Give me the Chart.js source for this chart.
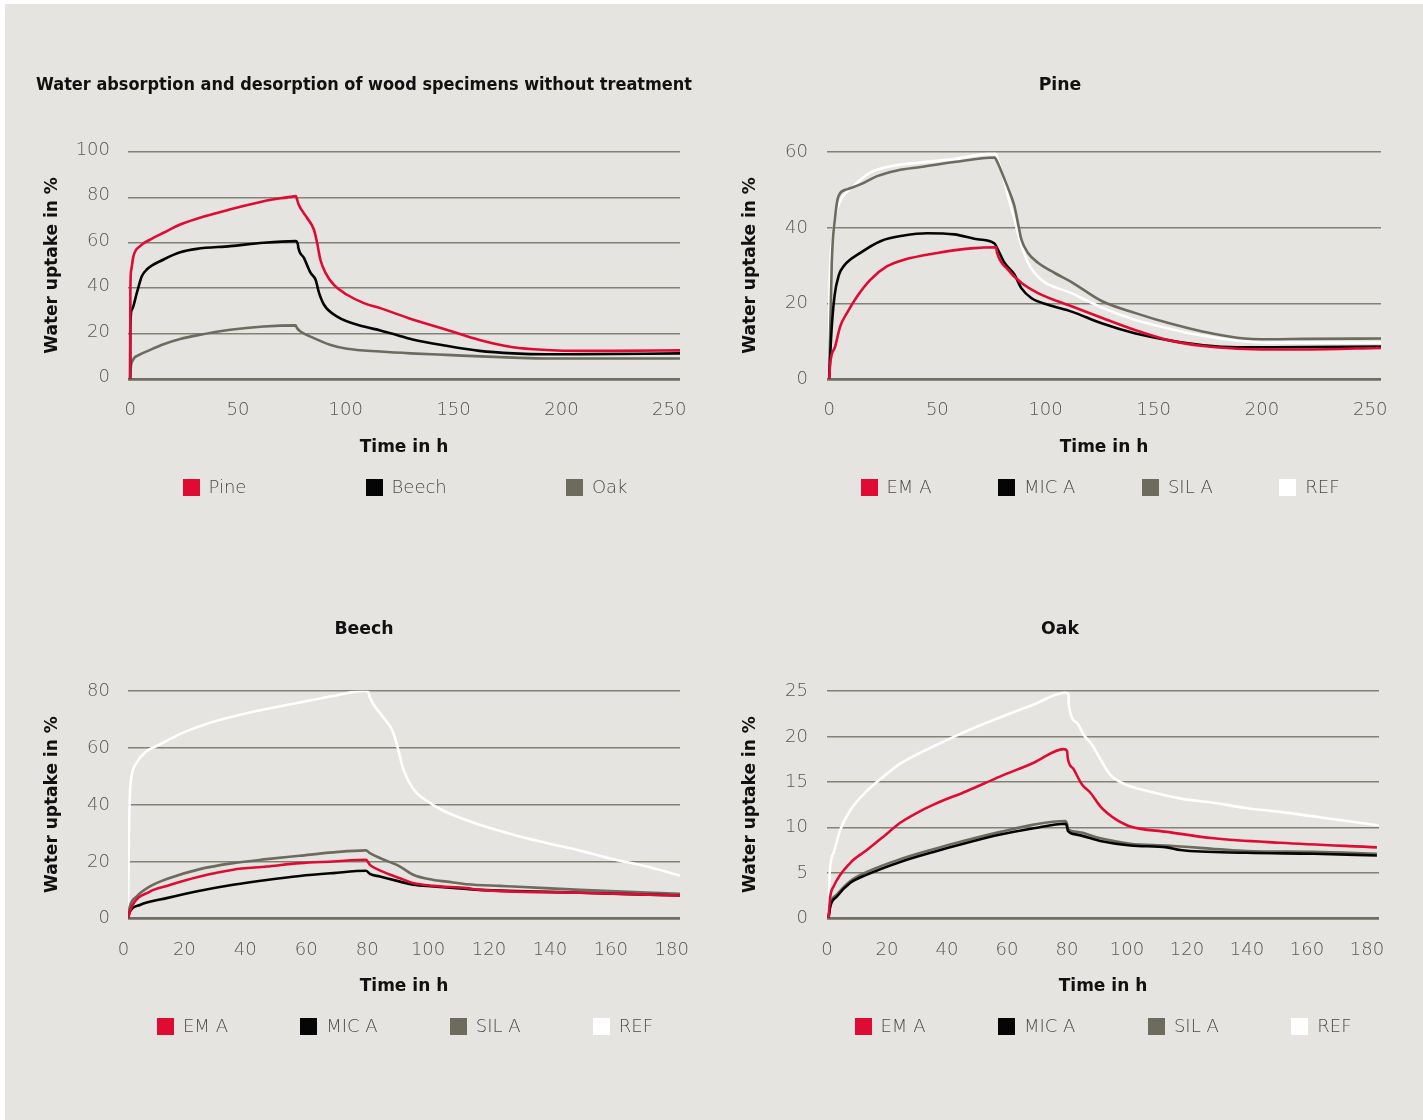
<!DOCTYPE html>
<html>
<head>
<meta charset="utf-8">
<title>Water absorption and desorption of wood specimens</title>
<script src="https://cdn.jsdelivr.net/npm/chart.js@4.4.1/dist/chart.umd.min.js"></script>
<style>
  html, body { margin: 0; padding: 0; background: #ffffff; }
  #sheet { position: absolute; left: 5px; top: 4px; width: 1418px; height: 1116px; background: #e5e4e0; }
  canvas { position: absolute; }
</style>
</head>
<body>
<div id="sheet"></div>
<canvas id="untreated" width="656" height="470" style="left:36px;top:60px"></canvas>
<canvas id="pine" width="666" height="470" style="left:727px;top:60px"></canvas>
<canvas id="beech" width="656" height="470" style="left:36px;top:600px"></canvas>
<canvas id="oak" width="666" height="470" style="left:727px;top:600px"></canvas>
<script>
// ---- Untreated specimens (time in h / water uptake in %) ----
const untreatedPineT  = [0, 0.1, 0.5, 1.5, 4.6, 9.3, 15.5, 23.2, 30.9, 46.5, 61.9, 75.8, 76.9, 77.4, 78.1, 82, 85.2, 86.7, 88.2, 90.6, 94.4, 100.6, 108.4, 116, 130.6, 146.7, 162, 177.6, 193, 208.7, 224.2, 255];
const untreatedPineV  = [0, 39, 48, 54, 58.5, 61.4, 64.4, 68, 70.6, 74.7, 78.3, 80.4, 80.6, 79.1, 76.9, 71, 65.8, 60, 52.6, 46.7, 41.5, 37.1, 33.4, 31.2, 26.3, 21.7, 17.2, 14.0, 12.8, 12.4, 12.4, 12.6];
const untreatedBeechT = [0, 0.05, 0.8, 3.1, 5.4, 7.7, 15.5, 23.2, 30.9, 46.5, 61.9, 76.7, 77.8, 78, 80.6, 83.7, 86, 87.6, 89.9, 96, 108.4, 116, 124, 131, 146.7, 162, 177.6, 193, 208.7, 255];
const untreatedBeechV = [0, 21.7, 30.5, 37.9, 45.2, 48.2, 52.6, 55.8, 57.3, 58.5, 60, 60.7, 59.2, 57.8, 53.3, 46.7, 43.7, 37.9, 32.7, 27.5, 23.1, 21.4, 19.3, 17.4, 14.6, 12.4, 11.3, 10.9, 10.9, 11.3];
const untreatedOakT   = [0, 0.2, 1.1, 4.2, 8.8, 15.5, 23.2, 30.9, 46.5, 61.9, 76.7, 77.4, 79, 85.2, 93, 100.6, 116, 130, 146.7, 177.6, 193, 255];
const untreatedOakV   = [0, 4, 8, 10.6, 12.6, 15.3, 17.6, 19.2, 21.7, 23.1, 23.6, 22.4, 20.9, 18, 15, 13.3, 12.1, 11.3, 10.6, 9.4, 9.0, 9.0];

// ---- Pine, treated (EM A, MIC A, SIL A) and reference ----
const pineEmaT = [0, 0.5, 2.8, 5.1, 8.2, 12.9, 19, 26.8, 34.5, 50, 65.5, 77.1, 77.6, 82.6, 88.8, 96.5, 112, 125.9, 141.6, 157.2, 172.9, 188.5, 204.2, 220, 255];
const pineEmaV = [0, 4.2, 8.6, 13.9, 17.4, 21.8, 26.2, 29.8, 31.5, 33.3, 34.5, 34.8, 33.3, 28.9, 25.4, 22.7, 19.2, 16.2, 12.9, 10.2, 8.7, 8.0, 7.8, 7.8, 8.2];
const pineMicT = [0, 1, 2.5, 4.5, 7, 14.4, 23.7, 34.5, 45.4, 57.8, 68.6, 76.4, 77.6, 81, 85.6, 88.8, 93.4, 101.2, 112, 125.9, 141.6, 157.2, 172.9, 188.5, 204.2, 255];
const pineMicV = [0, 12, 22, 27.5, 30, 33.3, 36.4, 37.9, 38.5, 38.2, 36.9, 35.8, 34.6, 30.7, 27.6, 24, 21.4, 19.6, 17.8, 14.7, 12, 10.2, 8.9, 8.4, 8.4, 8.6];
const pineSilT = [0, 1.2, 2.8, 4.3, 8.2, 14.4, 22.2, 31.5, 42.3, 57.8, 76.4, 77.1, 81, 84.1, 85.6, 87.2, 88.8, 91.9, 96.5, 104.2, 112, 125.9, 141.6, 157.2, 172.9, 188.5, 204.2, 219.8, 255];
const pineSilV = [0, 30.7, 43, 48.3, 50.1, 51.4, 53.6, 55.1, 56, 57.3, 58.5, 58, 52.8, 48.3, 45.7, 41.3, 36.9, 33.3, 30.7, 28, 25.6, 20.6, 17.4, 14.7, 12.5, 10.9, 10.5, 10.6, 10.7];
const pineRefT = [0, 0.1, 1.2, 2.8, 5.1, 11.3, 19, 26.8, 42.3, 57.8, 73.3, 77.1, 77.9, 80.3, 82.6, 85.6, 88, 91.9, 98, 112, 125.9, 141.6, 157.2, 172.9, 188.5, 204.2, 255];
const pineRefV = [0, 21.8, 35.1, 43, 47, 51, 54.5, 56, 57.2, 58.1, 59.4, 59.4, 58.1, 53.6, 48.3, 42.2, 36.9, 30.7, 26.2, 22.7, 18.9, 15.6, 13.3, 11.4, 10.1, 9.6, 9.6];

// ---- Beech ----
const beechEmaT = [1.5, 2.7, 8.7, 14.2, 25.1, 36, 47, 57.9, 68.9, 79.6, 80.9, 84.7, 90.8, 95.1, 101.7, 112.7, 117, 149.9, 182.7];
const beechEmaV = [0, 4.1, 9.4, 11.4, 14.7, 17.1, 18.2, 19.4, 20, 20.6, 18.8, 16.6, 14.1, 12.4, 11.4, 10.6, 10, 9.0, 8.0];
const beechMicT = [1.5, 2.1, 5.4, 14.2, 25.1, 36, 47, 57.9, 68.9, 79.6, 80.9, 84.2, 90.8, 95.1, 101.7, 112.7, 117, 149.9, 182.7];
const beechMicV = [0, 2.3, 4.7, 7.1, 9.7, 11.8, 13.5, 14.9, 15.9, 16.7, 15.6, 14.7, 12.9, 11.8, 11.2, 10.3, 10, 9.0, 8.0];
const beechSilT = [1.5, 2.1, 4.3, 8.7, 14.2, 25.1, 36, 47, 57.9, 68.9, 79.6, 80.9, 84.2, 90.8, 95.1, 101.7, 106.1, 112.7, 123.6, 128, 149.9, 182.7];
const beechSilV = [0, 4.1, 7.6, 11.2, 13.8, 17.3, 19.4, 20.8, 22, 23.2, 23.9, 22.9, 21.2, 18.2, 15.3, 13.5, 12.9, 12, 11.4, 11.2, 10, 8.6];
const beechRefT = [1.5, 1.8, 2.1, 2.7, 4.3, 7.6, 10.9, 19.6, 28.4, 41.5, 57.9, 68.9, 79.3, 80.4, 80.9, 84.7, 88.6, 90.2, 91.9, 95.1, 100.6, 106.1, 117, 128, 138.9, 149.9, 160.8, 171.8, 182.7];
const beechRefV = [0, 28.8, 42.9, 50, 54.7, 58.8, 60.6, 65.3, 68.8, 72.4, 75.9, 78.2, 80, 79.6, 77.7, 71.5, 65.3, 59.4, 52.3, 45.6, 40.6, 37.3, 32.9, 29.4, 26.5, 23.8, 20.8, 18.2, 15.0];

// ---- Oak ----
const oakEmaT = [0.5, 1.1, 2.2, 7.8, 13.3, 18.9, 24.4, 30, 35.5, 46.7, 57.8, 68.9, 78.9, 80, 80.3, 82.2, 85, 87.8, 91.1, 93.3, 96.7, 101.1, 113.3, 128.9, 151.1, 183.3];
const oakEmaV = [0, 2.4, 3.5, 6.1, 7.5, 9, 10.5, 11.6, 12.5, 14, 15.6, 17.1, 18.6, 18.4, 17.5, 16.4, 14.7, 13.8, 12.3, 11.6, 10.8, 10.1, 9.5, 8.8, 8.3, 7.8];
const oakMicT = [0.5, 1.1, 3.3, 7.8, 13.3, 24.4, 35.5, 46.7, 57.8, 68.9, 79.4, 80, 80.3, 83.3, 91.1, 101.1, 113.3, 117.8, 140, 162.2, 183.3];
const oakMicV = [0, 1.3, 2.4, 3.9, 4.8, 6.2, 7.3, 8.3, 9.2, 9.9, 10.4, 10.1, 9.6, 9.2, 8.5, 8.0, 7.8, 7.5, 7.2, 7.1, 6.9];
const oakSilT = [0.5, 1.1, 3.3, 7.8, 13.3, 24.4, 35.5, 46.7, 57.8, 68.9, 79.4, 80, 80.3, 83.3, 91.1, 101.1, 113.3, 140, 162.2, 183.3];
const oakSilV = [0, 1.5, 2.6, 4.1, 5.1, 6.5, 7.6, 8.6, 9.5, 10.3, 10.7, 10.4, 9.8, 9.5, 8.8, 8.2, 8.0, 7.4, 7.3, 7.1];
const oakRefT = [0.5, 0.9, 2.2, 4.4, 7.8, 13.3, 18.9, 24.4, 35.5, 46.7, 57.8, 68.9, 79.4, 80.5, 80.6, 83.3, 85.5, 88.3, 91.1, 94.4, 98.9, 107.8, 118.9, 128.9, 140, 151.1, 162.2, 173.3, 184];
const oakRefV = [0, 5, 7.2, 9.7, 11.9, 14.0, 15.6, 17.0, 18.9, 20.6, 22.1, 23.5, 24.8, 24.6, 23.5, 21.5, 20.2, 19.1, 17.5, 15.8, 14.8, 13.9, 13.1, 12.7, 12.1, 11.7, 11.2, 10.7, 10.2];

// ---- Axis ticks ----
const xTicksLong  = [0, 50, 100, 150, 200, 250];
const xTicksShort = [0, 20, 40, 60, 80, 100, 120, 140, 160, 180];

// ---- Styling ----
const RED = '#e00b32', BLACK = '#050505', GREY = '#6d6b5e', WHITE = '#ffffff';
const GRID = '#828176', ZERO = '#6f6e62';
const TICK_COLOR = '#585858';
const HEAD_FONT = { family: '"DejaVu Sans", sans-serif', size: 17, weight: 'bold' };
const TITLE_FONT = { family: '"DejaVu Sans", sans-serif', size: 17.3, weight: 'bold' };
const TICK_FONT = { family: '"DejaVu Sans", sans-serif', size: 18, weight: '200' };
const LEGEND_FONT = { family: '"DejaVu Sans", sans-serif', size: 18, weight: '200' };

// Legend drawn below the plot area, centred on it, with the items spread over a given span
const spreadLegend = {
  id: 'spreadLegend',
  afterDraw(chart, args, opts) {
    const { ctx, chartArea } = chart;
    ctx.save();
    ctx.font = `${opts.font.weight} ${opts.font.size}px ${opts.font.family}`;
    const box = opts.boxSize;
    const items = chart.data.datasets.map(ds => ({
      label: ds.label,
      color: ds.borderColor,
      w: box + opts.textGap + ctx.measureText(ds.label).width
    }));
    const sum = items.reduce((s, it) => s + it.w, 0);
    const gap = (opts.span - sum) / (items.length - 1);
    let x = (chartArea.left + chartArea.right) / 2 - opts.span / 2 + opts.shift;
    const y = chartArea.bottom + opts.offset;
    ctx.textBaseline = 'middle';
    ctx.textAlign = 'left';
    items.forEach(it => {
      ctx.fillStyle = it.color;
      ctx.fillRect(Math.round(x), Math.round(y - box / 2), box, box);
      ctx.fillStyle = opts.color;
      ctx.fillText(it.label, x + box + opts.textGap, y + 1);
      x += it.w + gap;
    });
    ctx.restore();
  }
};

function series(label, t, v, color) {
  return {
    label,
    data: t.map((x, i) => ({ x, y: v[i] })),
    borderColor: color,
    backgroundColor: color,
    borderWidth: 2.6,
    pointRadius: 0,
    fill: false,
    cubicInterpolationMode: 'monotone'
  };
}

function makeChart(id, c) {
  return new Chart(document.getElementById(id), {
    type: 'line',
    data: { datasets: c.datasets },
    options: {
      responsive: false,
      animation: false,
      devicePixelRatio: 1,
      events: [],
      layout: { padding: 0 },
      plugins: {
        legend: { display: false },
        tooltip: { enabled: false },
        title: {
          display: true,
          text: c.title,
          color: '#111111',
          font: TITLE_FONT,
          padding: { top: c.titleTop, bottom: c.titleBottom }
        },
        spreadLegend: { font: LEGEND_FONT, color: '#4a4a4a', boxSize: 17, textGap: 9, span: c.legendSpan, shift: c.legendShift, offset: c.legendOffset }
      },
      scales: {
        x: {
          type: 'linear',
          min: c.xMin,
          max: c.xMax,
          afterBuildTicks: s => { s.ticks = c.xTicks.map(v => ({ value: v })); },
          afterFit: s => { s.height = c.xHeight; s.paddingLeft = 0; s.paddingRight = 0; },
          ticks: { autoSkip: false, maxRotation: 0, padding: 21, font: TICK_FONT, color: TICK_COLOR },
          grid: { display: false, drawTicks: false },
          border: { display: false },
          title: { display: true, text: 'Time in h', color: '#111111', font: HEAD_FONT, padding: { top: 0, bottom: c.xTitleBottom } }
        },
        y: {
          min: 0,
          max: c.yMax,
          afterFit: s => { s.width = c.yWidth; },
          ticks: { stepSize: c.yStep, padding: c.yTickPad, labelOffset: c.yLabelOffset, font: TICK_FONT, color: TICK_COLOR },
          grid: {
            drawTicks: false,
            color: g => (g.tick && g.tick.value === 0 ? ZERO : GRID),
            lineWidth: g => (g.tick && g.tick.value === 0 ? 2.7 : 1.4)
          },
          border: { display: false },
          title: { display: true, text: 'Water uptake in %', color: '#111111', font: HEAD_FONT, padding: { top: c.yTitleTop, bottom: 0 } }
        },
        // empty strip on the right of the plot, keeps the title centred on the whole panel
        margin: {
          type: 'linear',
          position: 'right',
          afterFit: s => { s.width = c.rightGap; },
          ticks: { display: false },
          grid: { display: false, drawTicks: false },
          border: { display: false }
        }
      }
    },
    plugins: [spreadLegend]
  });
}

makeChart('untreated', {
  title: 'Water absorption and desorption of wood specimens without treatment',
  datasets: [
    series('Pine', untreatedPineT, untreatedPineV, RED),
    series('Beech', untreatedBeechT, untreatedBeechV, BLACK),
    series('Oak', untreatedOakT, untreatedOakV, GREY)
  ],
  rightGap: 12, titleTop: 15.2, titleBottom: 55.9,
  xMin: -1, xMax: 255, xTicks: xTicksLong, xHeight: 151, xTitleBottom: 72,
  yMax: 100, yStep: 20, yWidth: 92, yTickPad: 18, yLabelOffset: -1.6, yTitleTop: 6.7,
  legendSpan: 445, legendShift: 1, legendOffset: 108
});

makeChart('pine', {
  title: 'Pine',
  datasets: [
    series('EM A', pineEmaT, pineEmaV, RED),
    series('MIC A', pineMicT, pineMicV, BLACK),
    series('SIL A', pineSilT, pineSilV, GREY),
    series('REF', pineRefT, pineRefV, WHITE)
  ],
  rightGap: 12, titleTop: 15.2, titleBottom: 55.9,
  xMin: -1, xMax: 255, xTicks: xTicksLong, xHeight: 151, xTitleBottom: 72,
  yMax: 60, yStep: 20, yWidth: 100, yTickPad: 19, yLabelOffset: 0.5, yTitleTop: 13.7,
  legendSpan: 479, legendShift: -4, legendOffset: 108
});

makeChart('beech', {
  title: 'Beech',
  datasets: [
    series('EM A', beechEmaT, beechEmaV, RED),
    series('MIC A', beechMicT, beechMicV, BLACK),
    series('SIL A', beechSilT, beechSilV, GREY),
    series('REF', beechRefT, beechRefV, WHITE)
  ],
  rightGap: 12, titleTop: 19.2, titleBottom: 50.9,
  xMin: 1.5, xMax: 182.7, xTicks: xTicksShort, xHeight: 151.7, xTitleBottom: 73,
  yMax: 80, yStep: 20, yWidth: 92, yTickPad: 18, yLabelOffset: 0.5, yTitleTop: 6.7,
  legendSpan: 496, legendShift: 1, legendOffset: 108
});

makeChart('oak', {
  title: 'Oak',
  datasets: [
    series('EM A', oakEmaT, oakEmaV, RED),
    series('MIC A', oakMicT, oakMicV, BLACK),
    series('SIL A', oakSilT, oakSilV, GREY),
    series('REF', oakRefT, oakRefV, WHITE)
  ],
  rightGap: 14, titleTop: 19.2, titleBottom: 50.9,
  xMin: 0, xMax: 184, xTicks: xTicksShort, xHeight: 151.7, xTitleBottom: 73,
  yMax: 25, yStep: 5, yWidth: 100, yTickPad: 19, yLabelOffset: 0.5, yTitleTop: 13.7,
  legendSpan: 497, legendShift: 0, legendOffset: 108
});
</script>
</body>
</html>
